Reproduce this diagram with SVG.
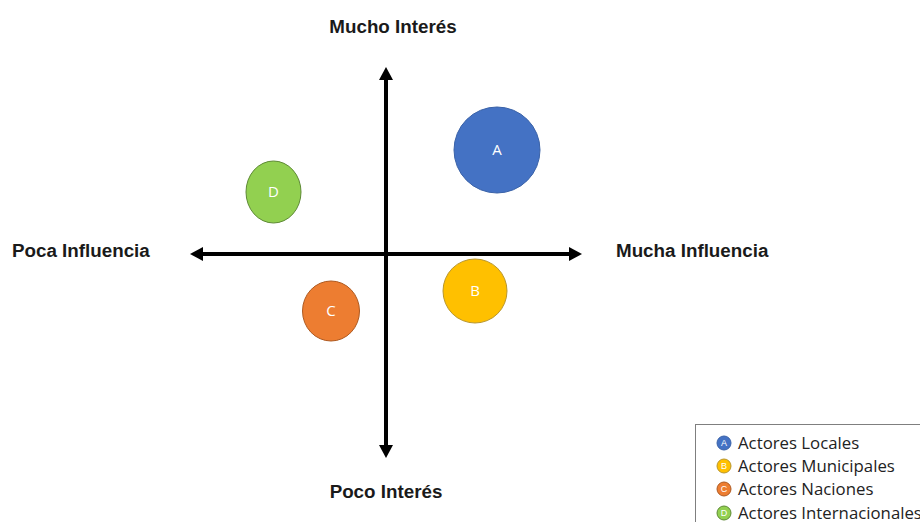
<svg xmlns="http://www.w3.org/2000/svg" width="920" height="522" viewBox="0 0 920 522">
<style>
.ax{stroke:#000;stroke-width:4;fill:none}
.lbl{font-family:"Liberation Sans",Arial,sans-serif;font-weight:bold;font-size:18.8px;fill:#1a1a1a}
.ntxt{font-family:"Open Sans","Liberation Sans",sans-serif;font-size:15px;fill:#fff;text-anchor:middle}
.leg{font-family:"Open Sans","Liberation Sans",sans-serif;font-size:16.8px;fill:#222}
.ltx{font-family:"Liberation Sans",sans-serif;font-size:9px;fill:#fff;text-anchor:middle}
</style>
<rect width="920" height="522" fill="#fff"/>
<g id="connectors">
<line class="ax" x1="200" y1="254" x2="572" y2="254"/>
<polygon points="190,254 203,247 203,261" fill="#000"/>
<polygon points="582,254 569,247 569,261" fill="#000"/>
<line class="ax" x1="386" y1="77" x2="386" y2="448"/>
<polygon points="386,67 379,80 393,80" fill="#000"/>
<polygon points="386,458 379,445 393,445" fill="#000"/>
</g>
<g id="labels">
<text class="lbl" x="393" y="33" text-anchor="middle">Mucho Interés</text>
<text class="lbl" x="386" y="498" text-anchor="middle">Poco Interés</text>
<text class="lbl" x="12" y="257">Poca Influencia</text>
<text class="lbl" x="616" y="257">Mucha Influencia</text>
</g>
<g id="node-A">
<circle cx="497" cy="150" r="43" fill="#4472C4" stroke="#3A62A8" stroke-width="1"/>
<text class="ntxt" x="497" y="155">A</text>
</g>
<g id="node-B">
<circle cx="475" cy="291" r="32" fill="#FFC000" stroke="#B8962E" stroke-width="1"/>
<text class="ntxt" x="475" y="296">B</text>
</g>
<g id="node-C">
<ellipse cx="331" cy="311" rx="28.5" ry="30" fill="#ED7D31" stroke="#AE5A21" stroke-width="1"/>
<text class="ntxt" x="331" y="316">C</text>
</g>
<g id="node-D">
<ellipse cx="273.5" cy="192" rx="27.5" ry="31" fill="#92D050" stroke="#5E8A35" stroke-width="1"/>
<text class="ntxt" x="273.5" y="197">D</text>
</g>
<g id="legend">
<rect x="695.5" y="424.5" width="240" height="110" fill="#fff" stroke="#7f7f7f" stroke-width="1"/>
<circle cx="724" cy="443" r="7" fill="#4472C4" stroke="#3A62A8"/>
<text class="ltx" x="724" y="446">A</text>
<text class="leg" x="738" y="449">Actores Locales</text>
<circle cx="724" cy="466" r="7" fill="#FFC000" stroke="#B8962E"/>
<text class="ltx" x="724" y="469">B</text>
<text class="leg" x="738" y="472">Actores Municipales</text>
<circle cx="724" cy="489" r="7" fill="#ED7D31" stroke="#AE5A21"/>
<text class="ltx" x="724" y="492">C</text>
<text class="leg" x="738" y="495">Actores Naciones</text>
<circle cx="724" cy="513" r="7" fill="#92D050" stroke="#5E8A35"/>
<text class="ltx" x="724" y="516">D</text>
<text class="leg" x="738" y="519">Actores Internacionales</text>
</g>
</svg>
